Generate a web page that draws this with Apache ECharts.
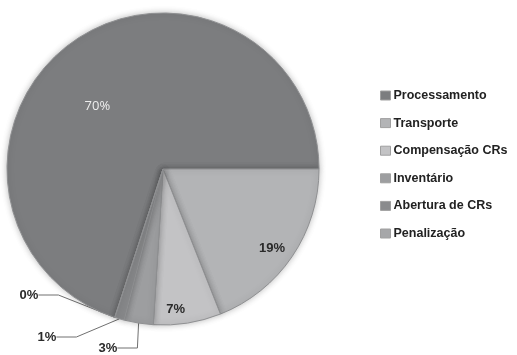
<!DOCTYPE html>
<html>
<head>
<meta charset="utf-8">
<script src="https://cdn.jsdelivr.net/npm/echarts@6/dist/echarts.min.js"></script>
<style>
  html, body { margin: 0; padding: 0; background: #ffffff; }
  #chart { width: 517px; height: 355px; }
</style>
</head>
<body>
<div id="chart"></div>
<script>
// Cost breakdown by category (share of total, %)
const categories = ['Processamento', 'Transporte', 'Compensação CRs', 'Inventário', 'Abertura de CRs', 'Penalização'];
const shares = [70, 19, 7, 3, 1, 0];
const sliceColors = ['#7c7d7f', '#b3b4b6', '#c3c3c5', '#9d9ea0', '#8a8b8d', '#a6a7a9'];

// Where each label is placed, relative to its default spot
const labelShift = [
  { dx: -18, dy: 3 },
  { dx: 42, dy: 34 },
  { dx: 0, dy: 60 },
  null, null, null
];

const chart = echarts.init(document.getElementById('chart'), null, { renderer: 'canvas' });

const boldFont = 'Liberation Sans, Arial, sans-serif';

const insideLabel = {
  show: true,
  position: 'inside',
  formatter: '{d}%',
  fontFamily: boldFont,
  fontWeight: 'bold',
  fontSize: 13,
  color: '#2a2a2a'
};

const pieData = categories.map((name, i) => {
  const item = {
    name: name,
    value: shares[i],
    itemStyle: { color: sliceColors[i] }
  };
  if (i === 0) {
    item.label = Object.assign({}, insideLabel, {
      fontFamily: 'Open Sans, sans-serif',
      fontWeight: 'normal',
      fontSize: 13,
      color: '#eeeeee'
    });
  } else if (i < 3) {
    item.label = insideLabel;
  } else {
    item.label = {
      show: true,
      position: 'outside',
      formatter: shares[i] + '%',
      fontFamily: boldFont,
      fontWeight: 'bold',
      fontSize: 13,
      color: '#2a2a2a'
    };
    item.labelLine = { show: true, length: 12, length2: 20, lineStyle: { color: '#707070', width: 1 } };
  }
  return item;
});

// Outer labels of the thin slices, fanned out below-left of the pie
const outerLabelSpot = {
  3: { x: 108, y: 348 },
  4: { x: 47, y: 337 },
  5: { x: 29, y: 295 }
};

chart.setOption({
  animation: false,
  backgroundColor: '#ffffff',
  legend: {
    orient: 'vertical',
    left: 375,
    top: 84,
    width: 142,
    itemWidth: 10,
    itemHeight: 9,
    itemGap: 14.6,
    icon: 'rect',
    data: categories,
    itemStyle: { borderColor: '#a0a0a0', borderWidth: 1 },
    textStyle: {
      fontFamily: boldFont,
      fontWeight: 'bold',
      fontSize: 12.5,
      lineHeight: 10,
      color: '#222222',
      padding: [0, 0, 0, -2]
    }
  },
  series: [{
    type: 'pie',
    center: [163, 169],
    radius: 156,
    startAngle: 252,
    clockwise: true,
    avoidLabelOverlap: false,
    minShowLabelAngle: 0,
    data: pieData,
    itemStyle: {
      borderColor: '#8f9092',
      borderWidth: 1,
      shadowBlur: 6,
      shadowColor: 'rgba(0,0,0,0.25)'
    },
    labelLayout: function (params) {
      const i = params.dataIndex;
      if (outerLabelSpot[i]) {
        return {
          x: outerLabelSpot[i].x,
          y: outerLabelSpot[i].y,
          align: 'center',
          verticalAlign: 'middle'
        };
      }
      const s = labelShift[i];
      return s ? { dx: s.dx, dy: s.dy } : {};
    }
  }]
});
</script>
</body>
</html>
